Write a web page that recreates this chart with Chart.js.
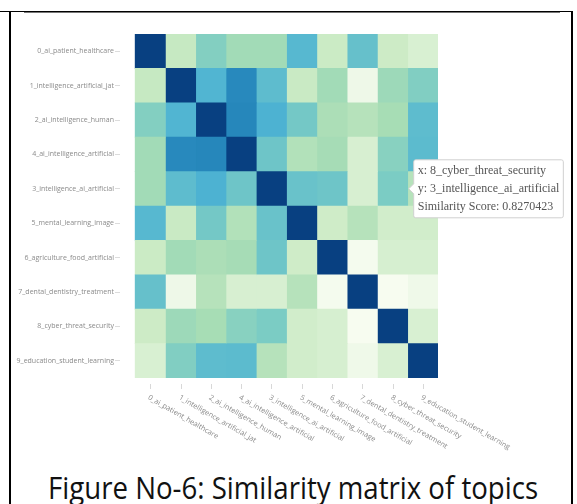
<!DOCTYPE html>
<html>
<head>
<meta charset="utf-8">
<script src="https://cdn.jsdelivr.net/npm/chart.js@4.4.1/dist/chart.umd.min.js"></script>
<style>
  html, body { margin: 0; padding: 0; background: #fff; width: 577px; height: 504px; overflow: hidden; }
  #wrap { position: absolute; left: 0; top: 0; width: 577px; height: 460px; }
  .rule { position: absolute; background: #000; }
  #caption { position: absolute; left: 0; top: 472px; width: 586px; text-align: center; white-space: nowrap; }
  #caption span { display: inline-block; font-family: 'Open Sans'; font-size: 31px; line-height: 31px; color: #111; transform-origin: 50% 50%; }
</style>
</head>
<body>
<div class="rule" style="left:0;top:11px;width:573px;height:1px;"></div>
<div class="rule" style="left:24px;top:12px;width:536px;height:1px;background:#777;"></div>
<div class="rule" style="left:9px;top:11px;width:2px;height:493px;"></div>
<div class="rule" style="left:571px;top:11px;width:2px;height:493px;"></div>
<div id="wrap"><canvas id="chart" width="577" height="460"></canvas></div>
<div id="caption"><span id="caption-text">Figure No-6: Similarity matrix of topics</span></div>
<script>
// topics, in the order they appear on both axes
const topics = [
  '0_ai_patient_healthcare',
  '1_intelligence_artificial_jat',
  '2_ai_intelligence_human',
  '4_ai_intelligence_artificial',
  '3_intelligence_ai_artificial',
  '5_mental_learning_image',
  '6_agriculture_food_artificial',
  '7_dental_dentistry_treatment',
  '8_cyber_threat_security',
  '9_education_student_learning'
];

// similarity scores, row = y topic, column = x topic
const similarity = [
  [1, 0.748, 0.820, 0.790, 0.790, 0.862, 0.742, 0.848, 0.740, 0.716],
  [0.748, 1, 0.868, 0.917, 0.855, 0.745, 0.790, 0.672, 0.795, 0.822],
  [0.820, 0.868, 1, 0.920, 0.872, 0.834, 0.780, 0.768, 0.785, 0.855],
  [0.790, 0.917, 0.920, 1, 0.840, 0.772, 0.786, 0.718, 0.815, 0.857],
  [0.790, 0.855, 0.872, 0.840, 1, 0.845, 0.840, 0.718, 0.8270423, 0.768],
  [0.862, 0.745, 0.834, 0.772, 0.845, 1, 0.735, 0.768, 0.730, 0.730],
  [0.742, 0.790, 0.780, 0.786, 0.840, 0.735, 1, 0.660, 0.720, 0.720],
  [0.848, 0.672, 0.768, 0.718, 0.718, 0.768, 0.660, 1, 0.655, 0.670],
  [0.740, 0.795, 0.785, 0.815, 0.8270423, 0.730, 0.720, 0.655, 1, 0.715],
  [0.716, 0.822, 0.855, 0.857, 0.768, 0.730, 0.720, 0.670, 0.715, 1]
];

// GnBu colour scale
const gnbu = ['#f7fcf0', '#e0f3db', '#ccebc5', '#a8ddb5', '#7bccc4', '#4eb3d3', '#2b8cbe', '#0868ac', '#084081'];
const scoreMin = Math.min(...similarity.flat());
const scoreMax = Math.max(...similarity.flat());

function hexToRgb(h) {
  return [1, 3, 5].map(i => parseInt(h.slice(i, i + 2), 16));
}

function scoreColor(v) {
  const t = Math.min(1, Math.max(0, (v - scoreMin) / (scoreMax - scoreMin))) * (gnbu.length - 1);
  const i = Math.min(gnbu.length - 2, Math.floor(t));
  const f = t - i;
  const a = hexToRgb(gnbu[i]), b = hexToRgb(gnbu[i + 1]);
  const c = a.map((x, k) => Math.round(x + (b[k] - x) * f));
  return `rgb(${c[0]}, ${c[1]}, ${c[2]})`;
}

// one floating-bar dataset per column, one bar per row
const datasets = topics.map((col, j) => ({
  label: col,
  data: topics.map(() => [j - 0.5, j + 0.5]),
  backgroundColor: topics.map((_, i) => scoreColor(similarity[i][j])),
  borderWidth: 0,
  barPercentage: 1,
  categoryPercentage: 1,
  grouped: false
}));

const labelColor = '#8a8a8a';

// rotated x labels and their tick marks
const columnLabels = {
  id: 'columnLabels',
  afterDatasetsDraw(chart) {
    const { ctx, chartArea } = chart;
    const x = chart.scales.x;
    ctx.save();
    ctx.font = '7.3px "Open Sans"';
    ctx.fillStyle = labelColor;
    ctx.strokeStyle = '#d8d8d8';
    ctx.lineWidth = 1;
    topics.forEach((name, j) => {
      const px = Math.round(x.getPixelForValue(j)) + 0.5;
      ctx.beginPath();
      ctx.moveTo(px, chartArea.bottom + 6);
      ctx.lineTo(px, chartArea.bottom + 11);
      ctx.stroke();
      ctx.save();
      ctx.translate(px - 2, chartArea.bottom + 19);
      ctx.rotate(Math.PI / 6);
      ctx.textAlign = 'left';
      ctx.textBaseline = 'middle';
      ctx.fillText(name, 0, 0);
      ctx.restore();
    });
    ctx.restore();
  }
};

const chart = new Chart(document.getElementById('chart'), {
  type: 'bar',
  data: { labels: topics, datasets },
  plugins: [columnLabels],
  options: {
    indexAxis: 'y',
    responsive: false,
    animation: false,
    events: [],
    layout: { padding: { left: 0, right: 139, top: 34, bottom: 82 } },
    scales: {
      x: { type: 'linear', min: -1, max: 9.5, display: false },
      y: {
        type: 'category',
        afterFit(scale) { scale.width = 120; },
        grid: { drawOnChartArea: false, offset: false, tickLength: 5, color: '#dcdcdc' },
        border: { display: false },
        ticks: { color: labelColor, font: { family: 'Open Sans', size: 7 }, padding: 1, autoSkip: false }
      }
    },
    plugins: {
      legend: { display: false },
      tooltip: {
        displayColors: false,
        backgroundColor: '#ffffff',
        borderColor: '#d0d0d0',
        borderWidth: 1,
        cornerRadius: 2,
        caretSize: 5,
        caretPadding: 1,
        xAlign: 'left',
        yAlign: 'center',
        padding: { x: 4, y: 2 },
        bodyColor: '#555555',
        bodyFont: { family: 'Liberation Serif', size: 12, lineHeight: 1.5 },
        bodySpacing: 0,
        callbacks: {
          title: () => [],
          label: (ctx) => [
            'x: ' + topics[ctx.datasetIndex],
            'y: ' + topics[ctx.dataIndex],
            'Similarity Score: ' + similarity[ctx.dataIndex][ctx.datasetIndex]
          ]
        }
      }
    }
  }
});

// show the hover label from the reference: x = 8_cyber_threat_security, y = 3_intelligence_ai_artificial
chart.tooltip.setActiveElements([{ datasetIndex: 8, index: 4 }], { x: 0, y: 0 });
chart.update();

// fit the caption to the width it has in the figure
const cap = document.getElementById('caption-text');
cap.style.transform = 'scaleX(' + (490 / cap.getBoundingClientRect().width) + ')';
</script>
</body>
</html>
